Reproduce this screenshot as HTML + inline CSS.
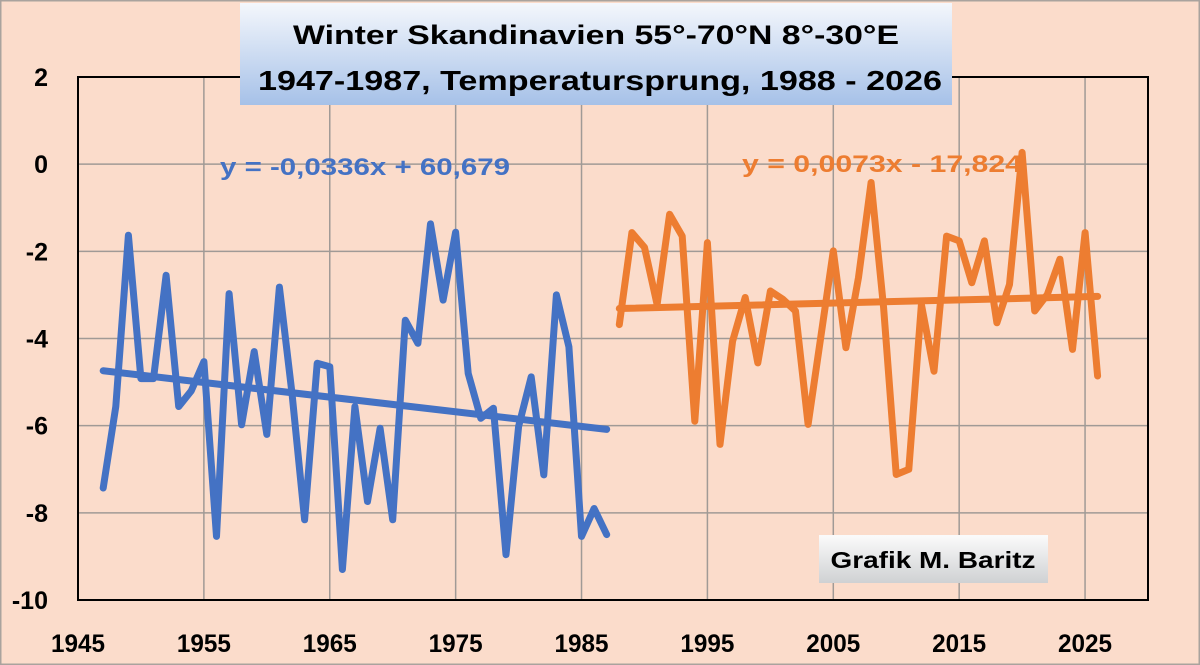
<!DOCTYPE html>
<html><head><meta charset="utf-8"><style>
html,body{margin:0;padding:0;background:#fbdccb;}
svg{display:block;font-family:"Liberation Sans",sans-serif;}
</style></head><body>
<svg id="chart" width="1200" height="665" viewBox="0 0 1200 665" xmlns="http://www.w3.org/2000/svg">
<defs>
<linearGradient id="tg" x1="0" y1="0" x2="0" y2="1"><stop offset="0" stop-color="#f4f7fc"/><stop offset="1" stop-color="#a6c1e8"/></linearGradient>
<linearGradient id="gg" x1="0" y1="0" x2="0" y2="1"><stop offset="0" stop-color="#fbfbfb"/><stop offset="1" stop-color="#cfd1d3"/></linearGradient>
</defs>
<rect x="0.5" y="0.5" width="1199" height="664" fill="#fbdccb" stroke="#a9a39e" stroke-width="2"/>
<g id="grid"></g>
<g id="series"></g>
<rect x="78" y="77" width="1070" height="523" fill="none" stroke="#000" stroke-width="2"/>
<g id="axes"></g>
<rect x="240" y="3" width="712" height="102" fill="url(#tg)"/>
<text x="596" y="44" text-anchor="middle" font-size="27" font-weight="bold" textLength="606" lengthAdjust="spacingAndGlyphs">Winter Skandinavien 55°-70°N 8°-30°E</text>
<text x="600" y="90" text-anchor="middle" font-size="28" font-weight="bold" textLength="684" lengthAdjust="spacingAndGlyphs">1947-1987, Temperatursprung, 1988 - 2026</text>
<text x="220" y="175" font-size="24" font-weight="bold" fill="#4472c4" textLength="290" lengthAdjust="spacingAndGlyphs">y = -0,0336x + 60,679</text>
<text x="742" y="172" font-size="24" font-weight="bold" fill="#ed7d31" textLength="280" lengthAdjust="spacingAndGlyphs">y = 0,0073x - 17,824</text>
<rect x="819" y="535" width="229" height="48" fill="url(#gg)"/>
<text x="933" y="568" text-anchor="middle" font-size="23" font-weight="bold" textLength="205" lengthAdjust="spacingAndGlyphs">Grafik M. Baritz</text>
</svg>
<script>
const xTicks = [1945,1955,1965,1975,1985,1995,2005,2015,2025];
const yTicks = [2,0,-2,-4,-6,-8,-10];
const yearsA = [];for(let y=1947;y<=1987;y++)yearsA.push(y);
const valuesA = [-7.43,-5.56,-1.63,-4.92,-4.92,-2.55,-5.56,-5.2,-4.53,-8.54,-2.97,-5.98,-4.3,-6.2,-2.82,-5.26,-8.16,-4.57,-4.65,-9.3,-5.56,-7.74,-6.06,-8.16,-3.58,-4.11,-1.37,-3.12,-1.56,-4.8,-5.83,-5.6,-8.96,-6.02,-4.88,-7.13,-3.0,-4.19,-8.54,-7.9,-8.5];
const yearsB = [];for(let y=1988;y<=2026;y++)yearsB.push(y);
const valuesB = [-3.68,-1.57,-1.91,-3.22,-1.15,-1.65,-5.9,-1.8,-6.43,-4.06,-3.06,-4.56,-2.91,-3.1,-3.37,-5.97,-3.98,-1.99,-4.21,-2.6,-0.42,-3.29,-7.12,-7.0,-3.22,-4.75,-1.65,-1.76,-2.72,-1.76,-3.64,-2.76,0.27,-3.37,-2.99,-2.18,-4.25,-1.57,-4.86];
const trendA = [-0.0336, 60.679];
const trendB = [0.0073, -17.824];
const NS='http://www.w3.org/2000/svg';
const X0=1945,X1=2030,PX0=78,PX1=1148,Y0=2,Y1=-10,PY0=77,PY1=600;
const sx=v=>PX0+(v-X0)/(X1-X0)*(PX1-PX0);
const sy=v=>PY0+(Y0-v)/(Y0-Y1)*(PY1-PY0);
function mk(tag,attrs,parent){const e=document.createElementNS(NS,tag);for(const k in attrs)e.setAttribute(k,attrs[k]);parent.appendChild(e);return e;}
const grid=document.getElementById('grid'),axes=document.getElementById('axes'),series=document.getElementById('series');
xTicks.forEach(t=>{
  const l=mk('line',{x1:sx(t),x2:sx(t),y1:PY0,y2:PY1,stroke:'#a09a96','stroke-width':1.5},grid);
  
  
  const tx=mk('text',{x:sx(t),y:652,'text-anchor':'middle','font-size':25,'font-weight':'bold',textLength:54,lengthAdjust:'spacingAndGlyphs'},axes);
  tx.textContent=t;
  
  
});
yTicks.forEach(t=>{
  const l=mk('line',{x1:PX0,x2:PX1,y1:sy(t),y2:sy(t),stroke:'#a09a96','stroke-width':1.5},grid);
  
  
  const tx=mk('text',{x:48,y:sy(t)+9,'text-anchor':'end','font-size':25,'font-weight':'bold'},axes);
  tx.textContent=t;
  
  
});
function line(xs,ys,color,name){
  const d=xs.map((x,i)=>(i?'L':'M')+sx(x).toFixed(1)+','+sy(ys[i]).toFixed(1)).join('');
  const p=mk('path',{d:d,fill:'none',stroke:color,'stroke-width':7,'stroke-linejoin':'round','stroke-linecap':'round'},series);
  
  
}
function trend(xs,c,color,name){
  const a=xs[0],b=xs[xs.length-1];
  const l=mk('line',{x1:sx(a),y1:sy(c[0]*a+c[1]),x2:sx(b),y2:sy(c[0]*b+c[1]),stroke:color,'stroke-width':7,'stroke-linecap':'round'},series);
  
  
}
line(yearsA,valuesA,'#4472c4','series-1947-1987');
trend(yearsA,trendA,'#4472c4','trend-1947-1987');
line(yearsB,valuesB,'#ed7d31','series-1988-2026');
trend(yearsB,trendB,'#ed7d31','trend-1988-2026');
</script>
</body></html>
